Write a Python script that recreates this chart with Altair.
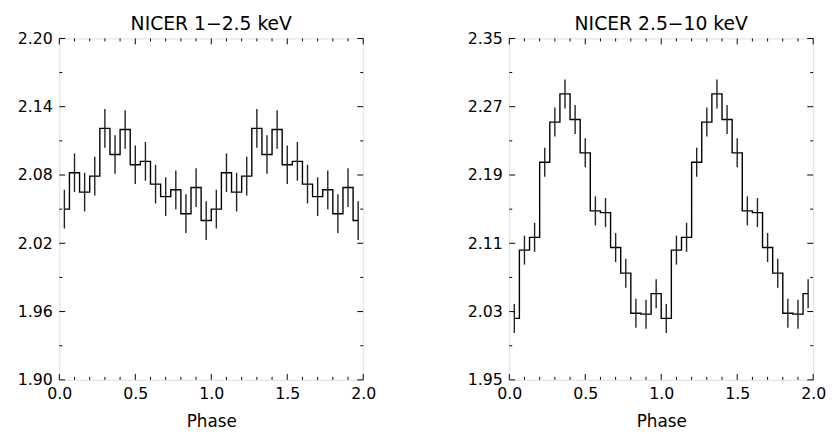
import altair as alt
import pandas as pd

# Bin centres (15 bins per cycle, two cycles shown)
phase = [0.0333, 0.1000, 0.1667, 0.2333, 0.3000, 0.3667, 0.4333, 0.5000,
         0.5667, 0.6333, 0.7000, 0.7667, 0.8333, 0.9000, 0.9667,
         1.0333, 1.1000, 1.1667, 1.2333, 1.3000, 1.3667, 1.4333, 1.5000,
         1.5667, 1.6333, 1.7000, 1.7667, 1.8333, 1.9000, 1.9667]

# NICER 1-2.5 keV
soft_rate = [2.050, 2.082, 2.065, 2.079, 2.121, 2.098, 2.120, 2.089,
             2.092, 2.072, 2.061, 2.067, 2.046, 2.069, 2.040,
             2.050, 2.082, 2.065, 2.079, 2.121, 2.098, 2.120, 2.089,
             2.092, 2.072, 2.061, 2.067, 2.046, 2.069, 2.040]
soft_err = [0.017] * 30

# NICER 2.5-10 keV
hard_rate = [2.022, 2.102, 2.117, 2.205, 2.252, 2.285, 2.255, 2.216,
             2.148, 2.146, 2.105, 2.075, 2.028, 2.027, 2.051,
             2.022, 2.102, 2.117, 2.205, 2.252, 2.285, 2.255, 2.216,
             2.148, 2.146, 2.105, 2.075, 2.028, 2.027, 2.051]
hard_err = [0.017] * 30

soft_yticks = [1.90, 1.96, 2.02, 2.08, 2.14, 2.20]
soft_yminor = [1.93, 1.99, 2.05, 2.11, 2.17]
hard_yticks = [1.95, 2.03, 2.11, 2.19, 2.27, 2.35]
hard_yminor = [1.99, 2.07, 2.15, 2.23, 2.31]
x_major = [0.0, 0.5, 1.0, 1.5, 2.0]
x_minor = [0.1, 0.2, 0.3, 0.4, 0.6, 0.7, 0.8, 0.9,
           1.1, 1.2, 1.3, 1.4, 1.6, 1.7, 1.8, 1.9]

W, H = 308, 346
FONT = "DejaVu Sans"
MAJ, MIN = 6, 3


def panel(title, rate, err, domain, yticks, yminor):
    df = pd.DataFrame({"phase": phase, "rate": rate, "err": err})
    df["lo"] = df["rate"] - df["err"]
    df["hi"] = df["rate"] + df["err"]
    xs = alt.Scale(domain=[0, 2], nice=False, zero=False)
    ys = alt.Scale(domain=domain, nice=False, zero=False)
    xaxis = alt.Axis(values=x_major, format=".1f", title="Phase", ticks=False,
                     tickSize=0, domain=False, grid=False, labelPadding=6,
                     labelFontSize=16, labelFont=FONT, labelColor="black",
                     labelFlush=False, titleFont=FONT, titleFontSize=17,
                     titleFontWeight="normal", titleColor="black",
                     titlePadding=12)
    yaxis = alt.Axis(values=yticks, format=".2f", title=None, ticks=False,
                     tickSize=0, domain=False, grid=False, labelPadding=7,
                     labelFontSize=16, labelFont=FONT, labelColor="black",
                     labelFlush=False)

    X = lambda f: alt.X(f, scale=xs, axis=xaxis, title="Phase")
    Y = lambda f: alt.Y(f, scale=ys, axis=yaxis, title=None)

    line = alt.Chart(df).mark_line(interpolate="step", color="black",
                                   strokeWidth=1.4).encode(
        x=X("phase:Q"), y=Y("rate:Q"))
    bars = alt.Chart(df).mark_rule(color="#222222", strokeWidth=1.4).encode(
        x=X("phase:Q"), y=Y("lo:Q"), y2="hi:Q")

    ymaj = pd.DataFrame({"v": yticks})
    ymin = pd.DataFrame({"v": yminor})
    xmaj = pd.DataFrame({"v": x_major})
    xmin = pd.DataFrame({"v": x_minor})

    def yt(d, L):
        base = alt.Chart(d).mark_rule(color="black", strokeWidth=1)
        return (base.encode(y=Y("v:Q"), x=alt.value(0), x2=alt.value(L)) +
                base.encode(y=Y("v:Q"), x=alt.value(W), x2=alt.value(W - L)))

    def xt(d, L):
        base = alt.Chart(d).mark_rule(color="black", strokeWidth=1)
        return (base.encode(x=X("v:Q"), y=alt.value(H), y2=alt.value(H - L)) +
                base.encode(x=X("v:Q"), y=alt.value(0), y2=alt.value(L)))

    return alt.layer(line, bars, yt(ymaj, MAJ), yt(ymin, MIN),
                     xt(xmaj, MAJ), xt(xmin, MIN)).properties(
        width=W, height=H,
        title=alt.TitleParams(title, fontSize=19, font=FONT,
                              fontWeight="normal", color="black",
                              anchor="middle", offset=-3),
    )


left = panel("NICER 1\u22122.5 keV", soft_rate, soft_err, [1.90, 2.20],
             soft_yticks, soft_yminor)
right = panel("NICER 2.5\u221210 keV", hard_rate, hard_err, [1.95, 2.35],
              hard_yticks, hard_yminor)

chart = alt.hconcat(left, right, spacing=90).properties(
    padding={"left": 8, "top": 3, "right": 0, "bottom": 0}
).configure_view(stroke="black", strokeWidth=1).configure(background="white")

chart.save("out.html", embed_options={"renderer": "svg", "actions": False})
